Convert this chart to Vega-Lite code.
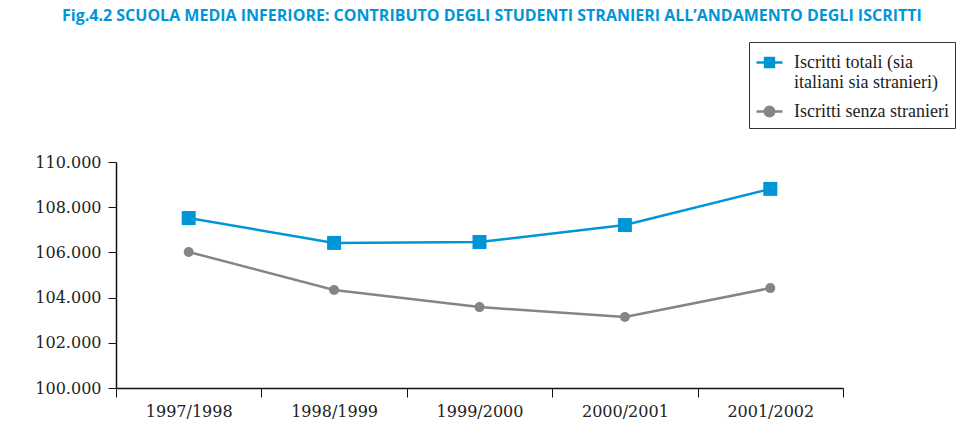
{
  "$schema": "https://vega.github.io/schema/vega-lite/v6.json",
  "width": 727,
  "height": 226,
  "autosize": {"type": "none"},
  "padding": {"left": 116, "top": 162, "right": 120, "bottom": 60},
  "background": "white",
  "title": {
    "text": "Fig.4.2 SCUOLA MEDIA INFERIORE: CONTRIBUTO DEGLI STUDENTI STRANIERI ALL’ANDAMENTO DEGLI ISCRITTI",
    "anchor": "start",
    "frame": "group",
    "dx": -54,
    "offset": 18,
    "font": "Open Sans",
    "fontSize": 16,
    "fontWeight": "bold",
    "color": "#0096D6"
  },
  "data": {
    "values": [
      {"anno": "1997/1998", "serie": "Iscritti totali (sia italiani sia stranieri)", "iscritti": 107520},
      {"anno": "1998/1999", "serie": "Iscritti totali (sia italiani sia stranieri)", "iscritti": 106420},
      {"anno": "1999/2000", "serie": "Iscritti totali (sia italiani sia stranieri)", "iscritti": 106460},
      {"anno": "2000/2001", "serie": "Iscritti totali (sia italiani sia stranieri)", "iscritti": 107210},
      {"anno": "2001/2002", "serie": "Iscritti totali (sia italiani sia stranieri)", "iscritti": 108810},
      {"anno": "1997/1998", "serie": "Iscritti senza stranieri", "iscritti": 106020},
      {"anno": "1998/1999", "serie": "Iscritti senza stranieri", "iscritti": 104340},
      {"anno": "1999/2000", "serie": "Iscritti senza stranieri", "iscritti": 103580},
      {"anno": "2000/2001", "serie": "Iscritti senza stranieri", "iscritti": 103140},
      {"anno": "2001/2002", "serie": "Iscritti senza stranieri", "iscritti": 104420}
    ]
  },
  "encoding": {
    "x": {
      "field": "anno",
      "type": "ordinal",
      "scale": {"paddingInner": 0, "paddingOuter": 0},
      "axis": {
        "title": null,
        "labelAngle": 0,
        "tickBand": "extent",
        "tickSize": 9,
        "tickColor": "#111",
        "domainColor": "#111",
        "domainWidth": 1.5,
        "labelFont": "DejaVu Serif",
        "labelFontSize": 16,
        "labelColor": "#222",
        "labelPadding": 6
      }
    },
    "y": {
      "field": "iscritti",
      "type": "quantitative",
      "scale": {"domain": [100000, 110000], "nice": false, "zero": false},
      "axis": {
        "title": null,
        "grid": false,
        "values": [100000, 102000, 104000, 106000, 108000, 110000],
        "labelExpr": "format(datum.value / 1000, '.3f')",
        "tickSize": 8,
        "tickColor": "#111",
        "domainColor": "#111",
        "domainWidth": 1.5,
        "labelFont": "DejaVu Serif",
        "labelFontSize": 16,
        "labelColor": "#222",
        "labelPadding": 7
      }
    },
    "color": {
      "field": "serie",
      "type": "nominal",
      "scale": {
        "domain": ["Iscritti totali (sia italiani sia stranieri)", "Iscritti senza stranieri"],
        "range": ["#0096D6", "#858585"]
      },
      "legend": {
        "title": null,
        "orient": "none",
        "legendX": 633,
        "legendY": -120,
        "strokeColor": "#333",
        "padding": 6,
        "rowPadding": 5,
        "labelOffset": 10,
        "labelLimit": 400,
        "labelFont": "Liberation Serif",
        "labelFontSize": 18,
        "labelColor": "#222",
        "labelExpr": "datum.label == 'Iscritti senza stranieri' ? datum.label : ['Iscritti totali (sia', 'italiani sia stranieri)']",
        "encode": {
          "labels": {"update": {"lineHeight": {"value": 20}}},
          "symbols": {
            "update": {
              "shape": {"signal": "datum.value == 'Iscritti senza stranieri' ? 'M-1,0H1M-0.36,0A0.36,0.36,0,1,0,0.36,0A0.36,0.36,0,1,0,-0.36,0Z' : 'M-1,0H1M-0.34,-0.34H0.34V0.34H-0.34Z'"},
              "size": {"value": 676},
              "fill": {"signal": "datum.value == 'Iscritti senza stranieri' ? '#858585' : '#0096D6'"},
              "stroke": {"signal": "datum.value == 'Iscritti senza stranieri' ? '#858585' : '#0096D6'"},
              "strokeWidth": {"value": 2.5},
              "opacity": {"value": 1}
            }
          }
        }
      }
    }
  },
  "layer": [
    {"mark": {"type": "line", "strokeWidth": 2.5}},
    {
      "transform": [{"filter": "datum.serie != 'Iscritti senza stranieri'"}],
      "mark": {"type": "point", "shape": "square", "filled": true, "size": 196, "opacity": 1}
    },
    {
      "transform": [{"filter": "datum.serie == 'Iscritti senza stranieri'"}],
      "mark": {"type": "point", "shape": "circle", "filled": true, "size": 100, "opacity": 1}
    }
  ],
  "config": {"view": {"stroke": null}}
}
